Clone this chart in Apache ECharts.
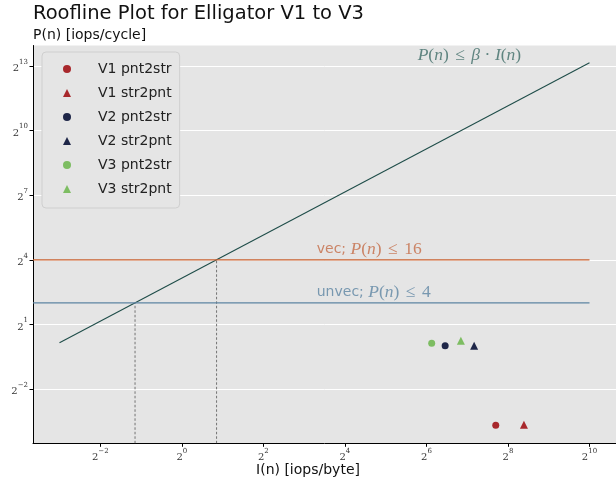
<!DOCTYPE html>
<html>
<head>
<meta charset="utf-8">
<script src="https://cdn.jsdelivr.net/npm/echarts@6/dist/echarts.min.js"></script>
<style>
html,body{margin:0;padding:0;background:#fff;}
#chart{width:616px;height:484px;}
</style>
</head>
<body>
<div id="chart"></div>
<script>
// ---- data ----
const seriesNames = ['V1 pnt2str', 'V1 str2pnt', 'V2 pnt2str', 'V2 str2pnt', 'V3 pnt2str', 'V3 str2pnt'];
const seriesSymbols = ['circle', 'triangle', 'circle', 'triangle', 'circle', 'triangle'];
const seriesColors = ['#a8282c', '#a8282c', '#1e2648', '#1e2648', '#7dbd62', '#7dbd62'];
const intensity = [208, 336, 88, 144, 70, 115];       // I(n) [iops/byte]
const performance = [0.078, 0.079, 1.01, 1.01, 1.09, 1.18]; // P(n) [iops/cycle]
const beta = 8.86;            // memory bandwidth slope
const vecPeak = 16;           // vec ceiling
const unvecPeak = 4;          // unvec ceiling
const roofI = [0.125, 1024];  // roofline I range
const ceilingEndI = 1024;
const xTickExps = [-2, 0, 2, 4, 6, 8, 10];
const yTickExps = [-2, 1, 4, 7, 10, 13];
const xExtentExp = [-3.65, 10.65];
const yExtentExp = [-4.52, 13.95];

const xMin = Math.pow(2, xExtentExp[0]), xMax = Math.pow(2, xExtentExp[1]);
const yMin = Math.pow(2, yExtentExp[0]), yMax = Math.pow(2, yExtentExp[1]);

const chart = echarts.init(document.getElementById('chart'), null, {renderer: 'canvas'});

const SANS = 'DejaVu Sans';
function powLabel(v) {
  const e = Math.round(Math.log2(v));
  if (Math.abs(Math.log2(v) - e) > 1e-6) return '';
  return '{b|2}{s|' + (e < 0 ? '\u2212' + (-e) : e) + '}';
}
const tickRich = {
  b: {fontFamily: 'DejaVu Serif', fontSize: 10, color: '#333', lineHeight: 15, verticalAlign: 'bottom'},
  s: {fontFamily: 'DejaVu Serif', fontSize: 7, color: '#333', lineHeight: 9, verticalAlign: 'top'}
};

const mathRich = function (color) {
  return {
    t: {fontFamily: SANS, fontSize: 14, color: color},
    i: {fontFamily: 'Liberation Serif', fontStyle: 'italic', fontSize: 17.5, color: color},
    r: {fontFamily: 'Liberation Serif', fontSize: 17.5, color: color},
    rel: {fontFamily: 'Liberation Serif', fontSize: 17.5, color: color, padding: [0, 6.5, 0, 6.5]},
    bin: {fontFamily: 'Liberation Serif', fontSize: 17.5, color: color, padding: [0, 4.5, 0, 4.5]}
  };
};

const scatterSeries = seriesNames.map((name, k) => ({
  name: name,
  type: 'scatter',
  symbol: seriesSymbols[k],
  symbolSize: seriesSymbols[k] === 'triangle' ? 8 : 7,
  itemStyle: {color: seriesColors[k], opacity: 1},
  data: [[intensity[k], performance[k]]],
  z: 10
}));

const option = {
  animation: false,
  backgroundColor: '#ffffff',
  title: [
    {text: 'Roofline Plot for Elligator V1 to V3', left: 28, top: -1,
     textStyle: {fontFamily: SANS, fontSize: 19.5, fontWeight: 'normal', color: '#111'}},
    {text: 'P(n) [iops/cycle]', left: 28, top: 23,
     textStyle: {fontFamily: SANS, fontSize: 14, fontWeight: 'normal', color: '#111'}},
    {text: 'I(n) [iops/byte]', left: 'center', top: 458,
     textStyle: {fontFamily: SANS, fontSize: 14, fontWeight: 'normal', color: '#111'}}
  ],
  grid: {left: 33, right: 0, top: 45.5, bottom: 40.7, containLabel: false,
         show: true, backgroundColor: '#e5e5e5', borderWidth: 0},
  legend: {
    data: seriesNames,
    orient: 'vertical',
    left: 42, top: 52,
    padding: [8, 8, 10, 21],
    itemWidth: 8, itemHeight: 8,
    itemGap: 6,
    backgroundColor: '#e5e5e5',
    borderColor: '#cfcfcf', borderWidth: 1, borderRadius: 4,
    formatter: n => '{p|}{n|' + n + '}',
    textStyle: {
      fontFamily: SANS, fontSize: 14, lineHeight: 18,
      rich: {
        p: {width: 22, lineHeight: 18},
        n: {fontFamily: SANS, fontSize: 14, color: '#222', lineHeight: 18}
      }
    }
  },
  xAxis: {
    type: 'log', logBase: 2, min: xMin, max: xMax,
    axisLine: {show: true, onZero: false, lineStyle: {color: '#000', width: 1}},
    axisTick: {show: true, length: 3.5, lineStyle: {color: '#000'},
               customValues: xTickExps.map(e => Math.pow(2, e))},
    axisLabel: {customValues: xTickExps.map(e => Math.pow(2, e)), formatter: powLabel,
                rich: tickRich, margin: 4},
    splitLine: {show: false},
    minorTick: {show: false}
  },
  yAxis: {
    type: 'log', logBase: 2, min: yMin, max: yMax,
    axisLine: {show: true, onZero: false, lineStyle: {color: '#000', width: 1}},
    axisTick: {show: true, length: 3.5, lineStyle: {color: '#000'},
               customValues: yTickExps.map(e => Math.pow(2, e))},
    axisLabel: {customValues: yTickExps.map(e => Math.pow(2, e)), formatter: powLabel,
                rich: tickRich, margin: 5},
    splitLine: {show: true, lineStyle: {color: '#ffffff', width: 1}},
    minorTick: {show: false}
  },
  series: [
    {type: 'line', name: 'roof', symbol: 'none', silent: true,
     lineStyle: {color: '#1f4d49', width: 1.1},
     data: roofI.map(i => [i, beta * i]), z: 3},
    {type: 'line', name: 'vec', symbol: 'none', silent: true,
     lineStyle: {color: '#c8612f', width: 1.2},
     data: [[xMin, vecPeak], [ceilingEndI, vecPeak]], z: 3},
    {type: 'line', name: 'unvec', symbol: 'none', silent: true,
     lineStyle: {color: '#5c84a2', width: 1.2},
     data: [[xMin, unvecPeak], [ceilingEndI, unvecPeak]], z: 3},
    {type: 'line', name: 'vecDrop', symbol: 'none', silent: true,
     lineStyle: {color: '#555', width: 0.8, type: [2.5, 2]},
     data: [[vecPeak / beta, yMin], [vecPeak / beta, vecPeak]], z: 2},
    {type: 'line', name: 'unvecDrop', symbol: 'none', silent: true,
     lineStyle: {color: '#555', width: 0.8, type: [2.5, 2]},
     data: [[unvecPeak / beta, yMin], [unvecPeak / beta, unvecPeak]], z: 2},
    // text annotations anchored in data coordinates
    {type: 'scatter', name: 'vecLabel', symbolSize: 1, silent: true,
     itemStyle: {color: 'transparent'},
     data: [[10, vecPeak]],
     label: {show: true, position: [0, 0], align: 'left', verticalAlign: 'bottom', offset: [0, -1],
             formatter: '{t|vec; }{i|P}{r|(}{i|n}{r|)}{rel|\u2264}{r|16}', rich: mathRich('#c46c46')}, z: 5},
    {type: 'scatter', name: 'unvecLabel', symbolSize: 1, silent: true,
     itemStyle: {color: 'transparent'},
     data: [[10, unvecPeak]],
     label: {show: true, position: [0, 0], align: 'left', verticalAlign: 'bottom', offset: [0, -1],
             formatter: '{t|unvec; }{i|P}{r|(}{i|n}{r|)}{rel|\u2264}{r|4}', rich: mathRich('#5d84a3')}, z: 5},
    {type: 'scatter', name: 'roofLabel', symbolSize: 1, silent: true,
     itemStyle: {color: 'transparent'},
     data: [[134, 8192]],
     label: {show: true, position: [0, 0], align: 'center', verticalAlign: 'bottom', offset: [0, -1],
             formatter: '{i|P}{r|(}{i|n}{r|)}{rel|\u2264}{i|\u03b2}{bin|\u00b7}{i|I}{r|(}{i|n}{r|)}', rich: mathRich('#3d6b66')}, z: 5}
  ].concat(scatterSeries)
};
chart.setOption(option);
</script>
</body>
</html>
